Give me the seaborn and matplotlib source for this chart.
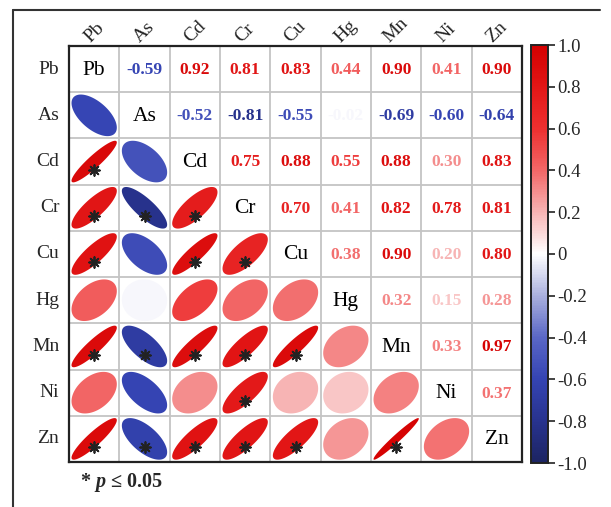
import numpy as np
import pandas as pd
import seaborn as sns
import matplotlib
matplotlib.use("Agg")
import matplotlib.pyplot as plt
from matplotlib.colors import LinearSegmentedColormap
from matplotlib.patches import Polygon
from matplotlib.lines import Line2D

# Heavy metals in the correlation matrix
metals = ["Pb", "As", "Cd", "Cr", "Cu", "Hg", "Mn", "Ni", "Zn"]

# Pearson coefficients, row by row (upper triangle, row metal vs later metals)
r_Pb = [-0.59, 0.92, 0.81, 0.83, 0.44, 0.90, 0.41, 0.90]
r_As = [-0.52, -0.81, -0.55, -0.02, -0.69, -0.60, -0.64]
r_Cd = [0.75, 0.88, 0.55, 0.88, 0.30, 0.83]
r_Cr = [0.70, 0.41, 0.82, 0.78, 0.81]
r_Cu = [0.38, 0.90, 0.20, 0.80]
r_Hg = [0.32, 0.15, 0.28]
r_Mn = [0.33, 0.97]
r_Ni = [0.37]

# Pairs significant at p <= 0.05 (lower triangle markers)
significant_pairs = [
    ("Cd", "Pb"),
    ("Cr", "Pb"), ("Cr", "As"), ("Cr", "Cd"),
    ("Cu", "Pb"), ("Cu", "Cd"), ("Cu", "Cr"),
    ("Mn", "Pb"), ("Mn", "As"), ("Mn", "Cd"), ("Mn", "Cr"), ("Mn", "Cu"),
    ("Ni", "Cr"),
    ("Zn", "Pb"), ("Zn", "As"), ("Zn", "Cd"), ("Zn", "Cr"), ("Zn", "Cu"), ("Zn", "Mn"),
]

colorbar_ticks = [1.0, 0.8, 0.6, 0.4, 0.2, 0.0, -0.2, -0.4, -0.6, -0.8, -1.0]
colorbar_labels = ["1.0", "0.8", "0.6", "0.4", "0.2", "0", "-0.2", "-0.4", "-0.6", "-0.8", "-1.0"]

# Assemble the full symmetric matrix
n = len(metals)
corr = np.eye(n)
for i, row in enumerate([r_Pb, r_As, r_Cd, r_Cr, r_Cu, r_Hg, r_Mn, r_Ni]):
    for k, v in enumerate(row):
        j = i + 1 + k
        corr[i, j] = v
        corr[j, i] = v
corr_df = pd.DataFrame(corr, index=metals, columns=metals)

sns.set_theme(style="white")
plt.rcParams["font.family"] = ["Liberation Serif", "DejaVu Serif"]
plt.rcParams["mathtext.fontset"] = "custom"
plt.rcParams["mathtext.it"] = "Liberation Serif:italic:bold"
plt.rcParams["mathtext.rm"] = "Liberation Serif:bold"

cmap = LinearSegmentedColormap.from_list(
    "bwr_corr",
    [(0.00, "#1c2462"), (0.10, "#28338f"), (0.20, "#3544b3"), (0.30, "#5a67c6"),
     (0.40, "#aab0de"), (0.50, "#ffffff"), (0.60, "#f7b4b4"), (0.70, "#f26868"),
     (0.80, "#ed3030"), (0.90, "#e21616"), (1.00, "#d40000")])

W, H = 611, 507
fig = plt.figure(figsize=(W / 100, H / 100), dpi=100)
ax = fig.add_axes([69 / W, 1 - 462 / H, 453 / W, 416 / H])
cax = fig.add_axes([531 / W, 1 - 463 / H, 17 / W, 418 / H])

# Empty grid with the shared colour scale; the cells are filled below
sns.heatmap(corr_df, mask=np.ones_like(corr, dtype=bool), cmap=cmap, vmin=-1, vmax=1,
            ax=ax, cbar_ax=cax, xticklabels=metals, yticklabels=metals)

ax.hlines(np.arange(1, n), 0, n, color="#c4c4c4", lw=1.3, zorder=1)
ax.vlines(np.arange(1, n), 0, n, color="#c4c4c4", lw=1.3, zorder=1)
for s in ax.spines.values():
    s.set_visible(True)
    s.set_color("#222222")
    s.set_linewidth(1.6)

ax.xaxis.tick_top()
ax.tick_params(length=0)
ax.set_xticklabels(metals, rotation=45, fontsize=14, ha="center", va="bottom")
ax.set_yticklabels(metals, rotation=0, fontsize=14)
ax.tick_params(axis="y", pad=7)
ax.tick_params(axis="x", pad=0)
ax.set_xlabel("")
ax.set_ylabel("")

t = np.linspace(0, 2 * np.pi, 120)
sig = {(metals.index(a), metals.index(b)) for a, b in significant_pairs}
for i in range(n):
    for j in range(n):
        r = corr[i, j]
        if i == j:
            ax.text(j + 0.5, i + 0.52, metals[i], ha="center", va="center",
                    fontsize=15.5, color="black")
        elif j > i:
            ax.text(j + 0.5, i + 0.52, f"{r:.2f}", ha="center", va="center",
                    fontsize=12.5, fontweight="bold", color=cmap((r + 1) / 2))
        else:
            d = np.arccos(r)
            ex = j + 0.5 + 0.45 * np.cos(t + d / 2)
            ey = i + 0.5 - 0.45 * np.cos(t - d / 2)
            ax.add_patch(Polygon(np.column_stack([ex, ey]), closed=True,
                                 facecolor=cmap((r + 1) / 2), edgecolor="none", zorder=2))
            if (i, j) in sig:
                ax.scatter(j + 0.5, i + 0.68, marker=(8, 2, 0), s=60, color="#222222",
                           linewidths=1.3, zorder=3)

cbar = ax.collections[0].colorbar
cbar.set_ticks(colorbar_ticks)
cbar.set_ticklabels(colorbar_labels)
cbar.ax.tick_params(length=5, width=1.2, color="#222222", labelsize=13.5, pad=2)
cbar.outline.set_visible(True)
cbar.outline.set_edgecolor("#222222")
cbar.outline.set_linewidth(1.4)

fig.text(80 / W, 1 - 482 / H, r"* $p$ ≤ 0.05", fontsize=14.5, fontweight="bold",
         ha="left", va="center")

# Surrounding frame
fig.add_artist(Line2D([13 / W, 13 / W], [0, 1 - 10 / H], transform=fig.transFigure,
                      color="#333333", lw=1.5))
fig.add_artist(Line2D([13 / W, 600 / W], [1 - 10 / H, 1 - 10 / H], transform=fig.transFigure,
                      color="#333333", lw=1.5))

fig.savefig("out.png", dpi=100)
